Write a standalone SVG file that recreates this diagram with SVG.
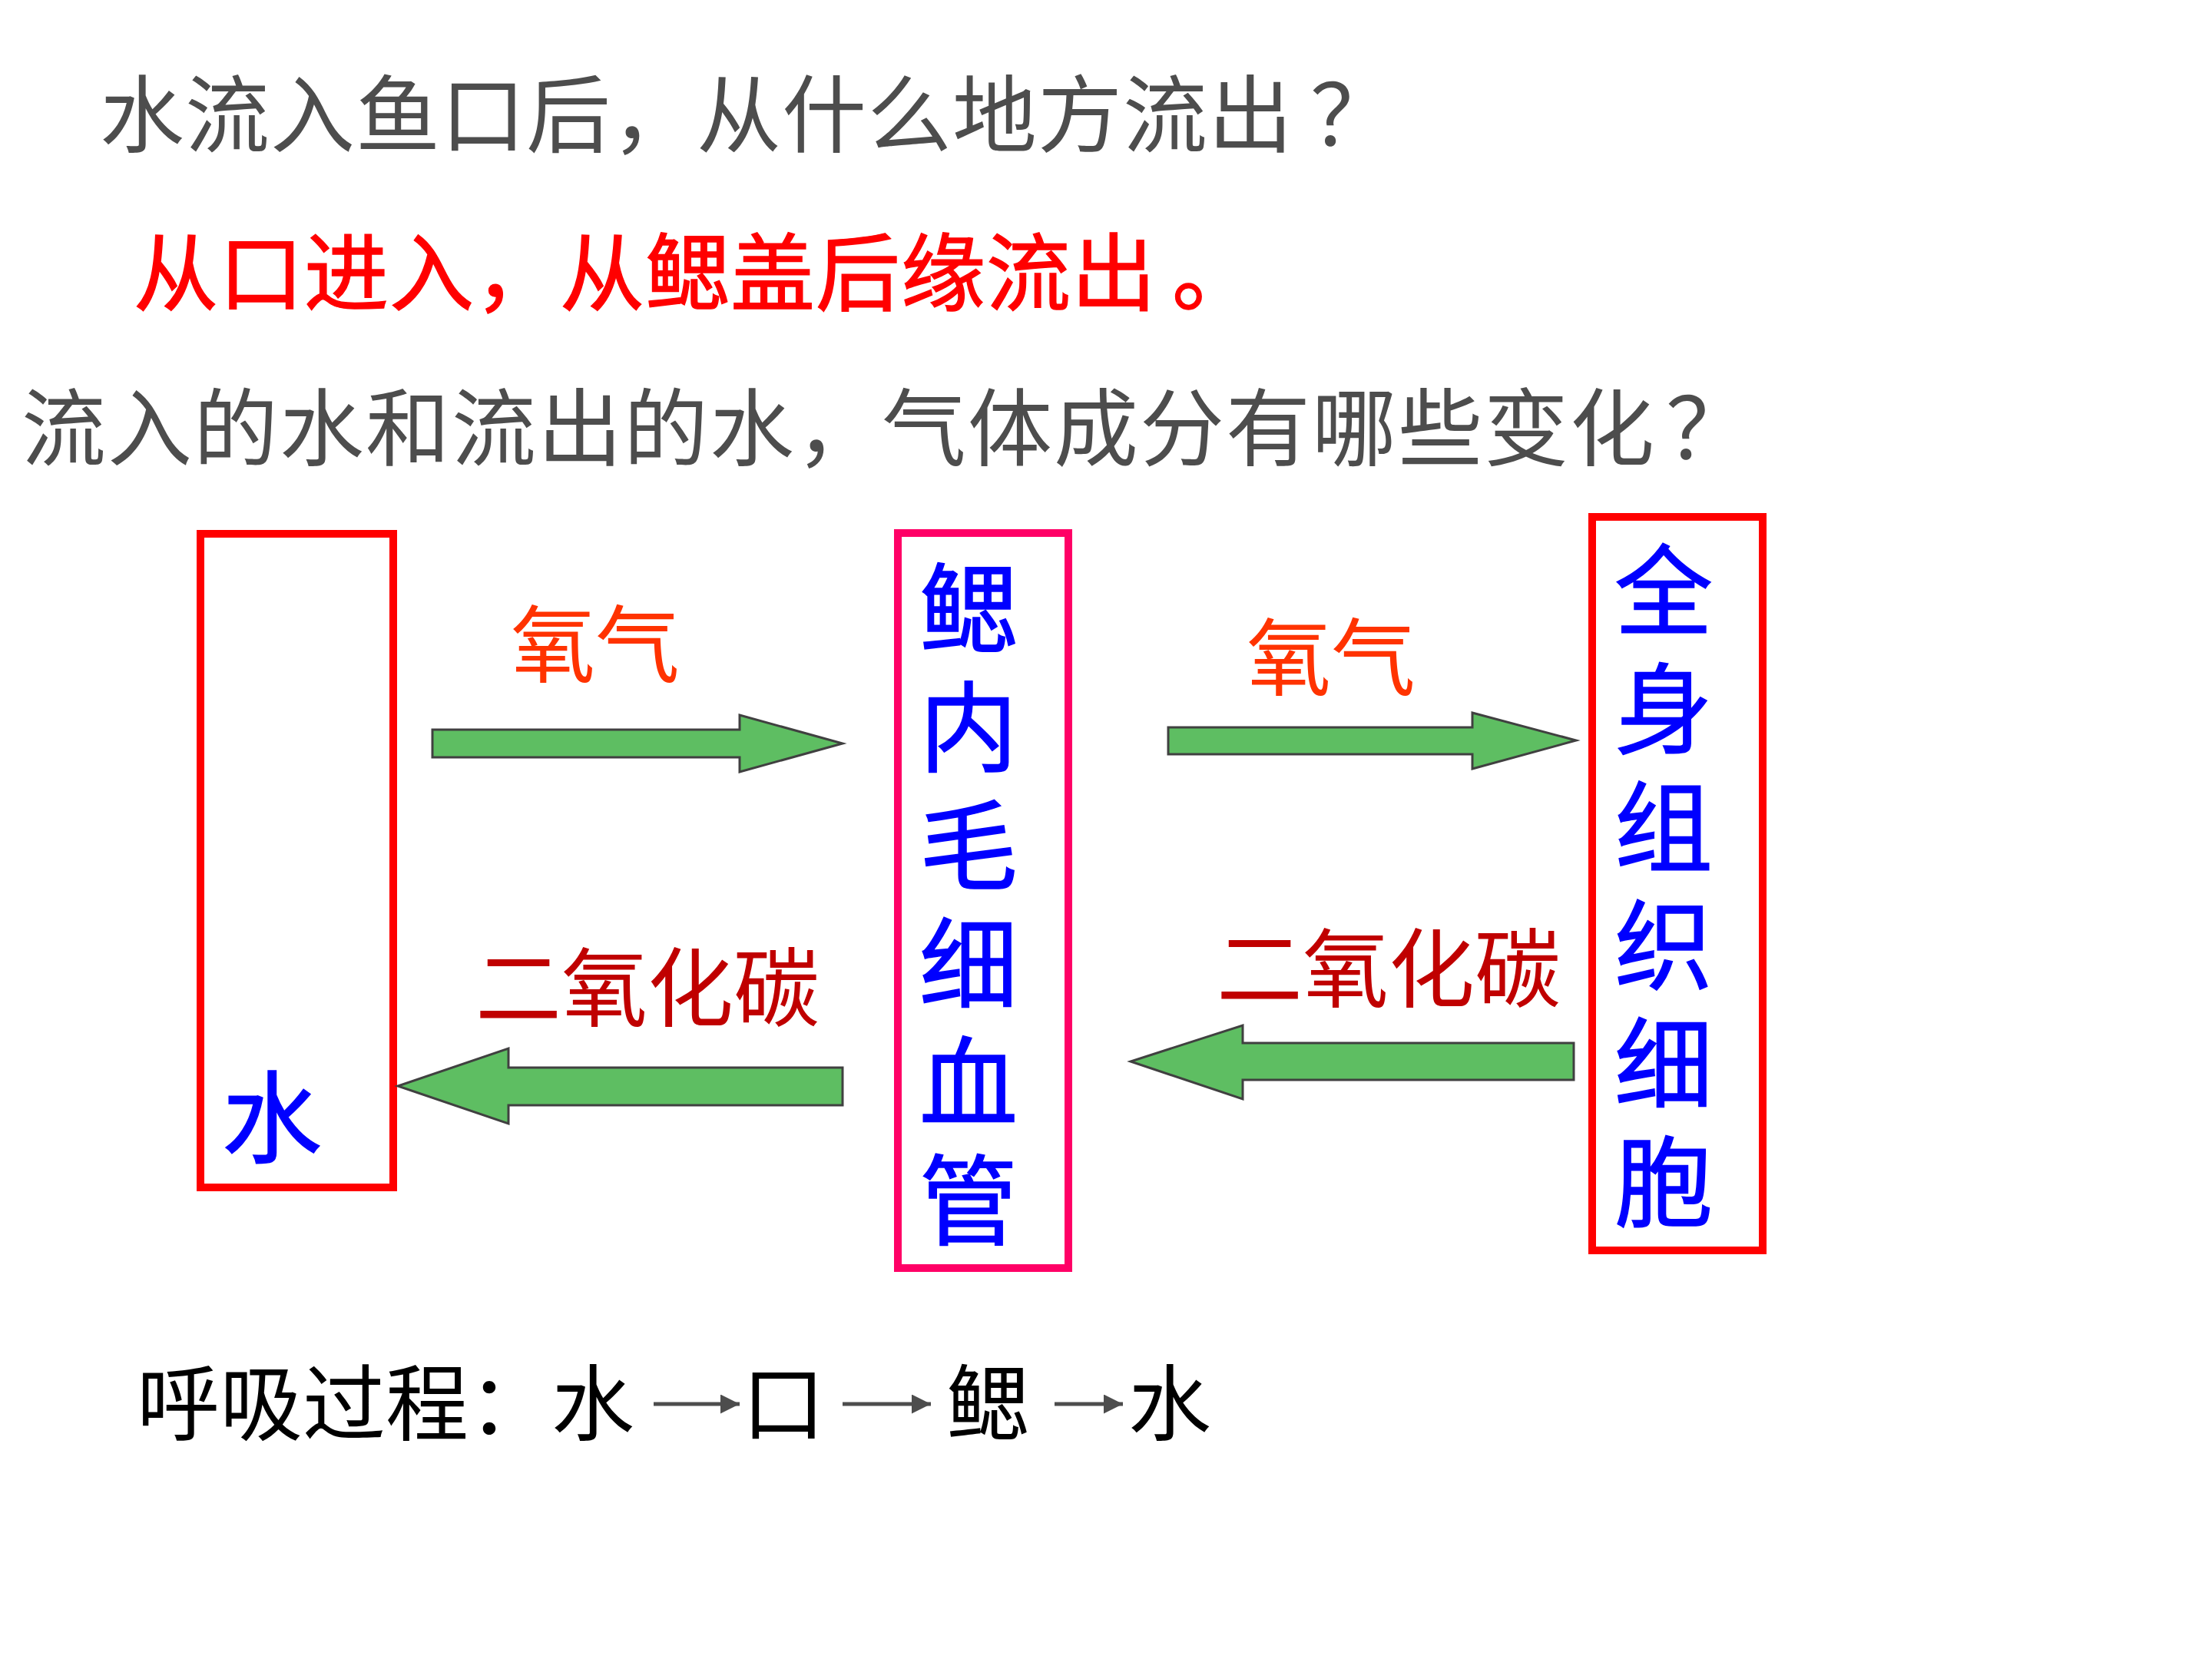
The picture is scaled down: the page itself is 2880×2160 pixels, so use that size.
<svg xmlns="http://www.w3.org/2000/svg" width="2880" height="2160" viewBox="0 0 2880 2160">
<defs>
<style>
text{font-family:"Noto Sans CJK SC","Noto Sans CJK JP",sans-serif;}
.q{fill:#4D4D4D;font-size:110px;}
.ans{fill:#FF0000;font-size:110px;stroke:#FF0000;stroke-width:1.5;}
.o2{fill:#FF3300;font-size:110px;}
.co2{fill:#C00000;font-size:112px;}
.blue{fill:#0000FF;stroke:#0000FF;stroke-width:1.5;}
.vert{font-size:128px;writing-mode:vertical-rl;letter-spacing:26px;}
.box{fill:none;stroke-width:10;}
.garrow{fill:#5EBE62;stroke:#404040;stroke-width:3;stroke-linejoin:miter;}
.blk{fill:#000000;font-size:108px;}
.thin{stroke:#4D4D4D;stroke-width:5;fill:none;marker-end:url(#ah);}
</style>
<marker id="ah" viewBox="0 0 10 10" refX="10" refY="5" markerWidth="5" markerHeight="5" markerUnits="strokeWidth" orient="auto">
<path d="M0,0 L10,5 L0,10 Z" fill="#4D4D4D"/>
</marker>
</defs>
<rect width="2880" height="2160" fill="#FFFFFF"/>

<g id="questions">
<text class="q" x="130" y="190" letter-spacing="1">水流入鱼口后，从什么地方流出<tspan x="1706">？</tspan></text>
<text class="ans" x="174" y="396" letter-spacing="1">从口进入，从鳃盖后缘流出<tspan x="1526">。</tspan></text>
<text class="q" x="28" y="598" letter-spacing="2">流入的水和流出的水，气体成分有哪些变化<tspan x="2169">？</tspan></text>
</g>

<g id="node-water">
<rect class="box" x="261" y="695" width="251" height="851" stroke="#FF0000"/>
<text class="blue" x="354" y="1503" font-size="130" text-anchor="middle">水</text>
</g>

<g id="node-gill-capillaries">
<rect class="box" x="1169" y="694" width="222" height="957" stroke="#FF0066"/>
<text class="blue vert" x="1261" y="728">鳃内毛细血管</text>
</g>

<g id="node-body-cells">
<rect class="box" x="2073" y="673" width="222" height="955" stroke="#FF0000"/>
<text class="blue vert" x="2166" y="704">全身组织细胞</text>
</g>

<g id="connectors">
<polygon class="garrow" points="563,950 963,950 963,931 1097,968 963,1005 963,986 563,986"/>
<polygon class="garrow" points="1097,1390 662,1390 662,1365 518,1414 662,1463 662,1439 1097,1439"/>
<polygon class="garrow" points="1521,947 1917,947 1917,928 2052,964 1917,1001 1917,982 1521,982"/>
<polygon class="garrow" points="2049,1358 1618,1358 1618,1335 1472,1382 1618,1431 1618,1406 2049,1406"/>
<line class="thin" x1="851" y1="1828" x2="963" y2="1828"/>
<line class="thin" x1="1097" y1="1828" x2="1212" y2="1828"/>
<line class="thin" x1="1373" y1="1828" x2="1462" y2="1828"/>
</g>

<g id="labels">
<text class="o2" x="775" y="880" text-anchor="middle">氧气</text>
<text class="co2" x="843" y="1328" text-anchor="middle">二氧化碳</text>
<text class="o2" x="1733" y="897" text-anchor="middle">氧气</text>
<text class="co2" x="1808" y="1303" text-anchor="middle">二氧化碳</text>
</g>

<g id="process">
<text class="blk" x="178" y="1867">呼吸过程：水</text>
<text class="blk" x="1020" y="1867" text-anchor="middle">口</text>
<text class="blk" x="1286" y="1867" text-anchor="middle">鳃</text>
<text class="blk" x="1523" y="1867" text-anchor="middle">水</text>
</g>
</svg>
